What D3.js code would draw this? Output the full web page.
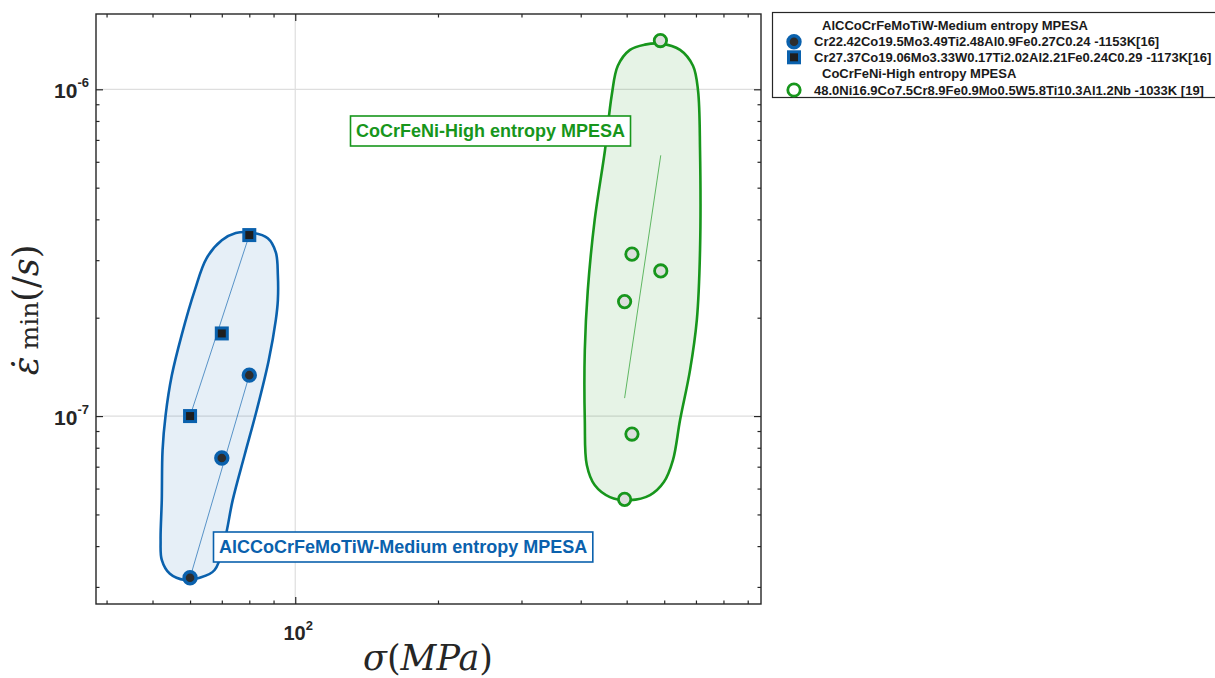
<!DOCTYPE html>
<html><head><meta charset="utf-8">
<script src="https://cdn.jsdelivr.net/npm/d3@7"></script>
<style>body{margin:0;background:#fff}svg{display:block}</style>
</head><body><svg id="chart" width="1215" height="678"></svg>
<script>
// ---------- data ----------
const groupNames = ["AlCCoCrFeMoTiW-Medium entropy MPESA", "CoCrFeNi-High entropy MPESA"];
const seriesNames = [
  "Cr22.42Co19.5Mo3.49Ti2.48Al0.9Fe0.27C0.24 -1153K[16]",
  "Cr27.37Co19.06Mo3.33W0.17Ti2.02Al2.21Fe0.24C0.29 -1173K[16]",
  "48.0Ni16.9Co7.5Cr8.9Fe0.9Mo0.5W5.8Ti10.3Al1.2Nb -1033K [19]"
];
// series 1: circles (medium entropy)
const circleStress = [60, 70, 80];
const circleRate   = [3.2e-8, 7.44e-8, 1.334e-7];
// series 2: squares (medium entropy)
const squareStress = [60, 70, 80];
const squareRate   = [1.0e-7, 1.79e-7, 3.58e-7];
// series 3: open circles (high entropy)
const highStress = [589, 513, 590, 495, 513, 495];
const highRate   = [1.41e-6, 3.13e-7, 2.78e-7, 2.24e-7, 8.81e-8, 5.56e-8];
// fit lines
const circleFitStress = [60, 80];
const circleFitRate   = [3.2e-8, 1.334e-7];
const squareFitStress = [60, 80];
const squareFitRate   = [1.0e-7, 3.58e-7];
const highFitStress   = [495, 590];
const highFitRate     = [1.135e-7, 6.28e-7];
// region outlines (data units)
const mediumHullStress = [80.2, 87.5, 91.0, 91.9, 91.9, 91.0, 87.9, 82.9, 78.2, 73.8, 71.0, 67.6, 62.9, 58.5, 54.4, 52.3, 52.0, 52.3, 52.5, 53.3, 54.9, 57.6, 61.4, 65.0, 70.0, 74.9];
const mediumHullRate   = [3.65e-7, 3.50e-7, 3.17e-7, 2.70e-7, 2.26e-7, 1.97e-7, 1.48e-7, 1.04e-7, 7.60e-8, 5.53e-8, 4.18e-8, 3.38e-8, 3.20e-8, 3.15e-8, 3.29e-8, 3.63e-8, 4.18e-8, 5.53e-8, 7.87e-8, 1.01e-7, 1.33e-7, 1.77e-7, 2.43e-7, 3.04e-7, 3.45e-7, 3.63e-7];
const highHullStress = [590, 648, 690, 707, 714, 714, 703, 680, 648, 626, 599, 560, 508, 461, 428, 412, 408, 408, 414, 428, 450, 465, 479, 508, 546];
const highHullRate   = [1.38e-6, 1.32e-6, 1.18e-6, 9.93e-7, 6.51e-7, 3.22e-7, 1.97e-7, 1.38e-7, 9.72e-8, 7.33e-8, 6.28e-8, 5.73e-8, 5.53e-8, 5.65e-8, 6.15e-8, 7.08e-8, 9.72e-8, 1.59e-7, 2.43e-7, 3.98e-7, 6.51e-7, 9.59e-7, 1.18e-6, 1.32e-6, 1.37e-6];
// axes
const xDomain = [38, 960];
const yDomain = [2.66e-8, 1.70e-6];
const xMajor = [100];
const xMinor = [40, 50, 60, 70, 80, 90, 200, 300, 400, 500, 600, 700, 800, 900];
const yMajor = [1e-7, 1e-6];
const yMinor = [3e-8, 4e-8, 5e-8, 6e-8, 7e-8, 8e-8, 9e-8, 2e-7, 3e-7, 4e-7, 5e-7, 6e-7, 7e-7, 8e-7, 9e-7];
const xTickLabels = [["10", "2"]];
const yTickLabels = [["10", "-7"], ["10", "-6"]];

// ---------- styles ----------
const BLUE = "#0a61ad", GREEN = "#17961c", AX = "#262626";
const svg = d3.select("#chart");
svg.append("rect").attr("width", 1215).attr("height", 678).attr("fill", "#fff");
const plot = {left: 96, right: 761, top: 14, bottom: 604};
const x = d3.scaleLog().domain(xDomain).range([plot.left, plot.right]);
const y = d3.scaleLog().domain(yDomain).range([plot.bottom, plot.top]);

// grid
const grid = svg.append("g").attr("stroke", "#dedede").attr("stroke-width", 1.2);
xMajor.forEach(v => grid.append("line").attr("x1", x(v)).attr("x2", x(v)).attr("y1", plot.top).attr("y2", plot.bottom));
yMajor.forEach(v => grid.append("line").attr("y1", y(v)).attr("y2", y(v)).attr("x1", plot.left).attr("x2", plot.right));

// hulls
const hull = d3.line().x(d => x(d[0])).y(d => y(d[1])).curve(d3.curveCatmullRomClosed.alpha(0.5));
const medHull = d3.zip(mediumHullStress, mediumHullRate);
const hiHull = d3.zip(highHullStress, highHullRate);
svg.append("path").attr("d", hull(medHull)).attr("fill", BLUE).attr("fill-opacity", 0.1)
  .attr("stroke", BLUE).attr("stroke-width", 2.6);
svg.append("path").attr("d", hull(hiHull)).attr("fill", GREEN).attr("fill-opacity", 0.11)
  .attr("stroke", GREEN).attr("stroke-width", 2.6);

// fit lines
const fl = d3.line().x(d => x(d[0])).y(d => y(d[1]));
svg.append("path").attr("d", fl(d3.zip(circleFitStress, circleFitRate))).attr("stroke", BLUE).attr("stroke-opacity", 0.65).attr("stroke-width", 1).attr("fill", "none");
svg.append("path").attr("d", fl(d3.zip(squareFitStress, squareFitRate))).attr("stroke", BLUE).attr("stroke-opacity", 0.65).attr("stroke-width", 1).attr("fill", "none");
svg.append("path").attr("d", fl(d3.zip(highFitStress, highFitRate))).attr("stroke", GREEN).attr("stroke-opacity", 0.65).attr("stroke-width", 1).attr("fill", "none");

// markers
svg.append("g").selectAll("circle").data(d3.zip(circleStress, circleRate)).join("circle")
  .attr("cx", d => x(d[0])).attr("cy", d => y(d[1])).attr("r", 6)
  .attr("fill", "#2d2d2d").attr("stroke", BLUE).attr("stroke-width", 3.4);
svg.append("g").selectAll("rect").data(d3.zip(squareStress, squareRate)).join("rect")
  .attr("x", d => x(d[0]) - 5.5).attr("y", d => y(d[1]) - 5.5).attr("width", 11).attr("height", 11)
  .attr("fill", "#1e1e1e").attr("stroke", BLUE).attr("stroke-width", 3);
svg.append("g").selectAll("circle").data(d3.zip(highStress, highRate)).join("circle")
  .attr("cx", d => x(d[0])).attr("cy", d => y(d[1])).attr("r", 6.2)
  .attr("fill", "#dcdfdc").attr("stroke", GREEN).attr("stroke-width", 2.8);

// region labels
function boxLabel(txt, color, x0, yBase) {
  const g = svg.append("g");
  const t = g.append("text").attr("x", x0).attr("y", yBase).text(txt)
    .attr("font-family", "Liberation Sans, Arial, sans-serif").attr("font-weight", "bold")
    .attr("font-size", 18).attr("fill", color);
  const w = t.node().getComputedTextLength();
  g.insert("rect", "text").attr("x", x0 - 5.5).attr("y", yBase - 21).attr("width", w + 11).attr("height", 30)
    .attr("fill", "#fff").attr("stroke", color).attr("stroke-width", 1.6);
}
boxLabel(groupNames[1], GREEN, 356, 137);
boxLabel(groupNames[0], BLUE, 219, 553);

// axes ticks (inward, all four sides)
function ticks(gen, vals, size, tr) {
  svg.append("g").attr("transform", tr)
    .call(gen.tickValues(vals).tickSize(size).tickFormat(""))
    .call(g => g.select(".domain").remove())
    .call(g => g.selectAll("line").attr("stroke", AX).attr("stroke-width", 1.2));
}
ticks(d3.axisBottom(x), xMinor, -3.5, `translate(0,${plot.bottom})`);
ticks(d3.axisBottom(x), xMajor, -7, `translate(0,${plot.bottom})`);
ticks(d3.axisTop(x), xMinor, -3.5, `translate(0,${plot.top})`);
ticks(d3.axisTop(x), xMajor, -7, `translate(0,${plot.top})`);
ticks(d3.axisLeft(y), yMinor, -3.5, `translate(${plot.left},0)`);
ticks(d3.axisLeft(y), yMajor, -7, `translate(${plot.left},0)`);
ticks(d3.axisRight(y), yMinor, -3.5, `translate(${plot.right},0)`);
ticks(d3.axisRight(y), yMajor, -7, `translate(${plot.right},0)`);
svg.append("rect").attr("x", plot.left).attr("y", plot.top).attr("width", plot.right - plot.left)
  .attr("height", plot.bottom - plot.top).attr("fill", "none").attr("stroke", AX).attr("stroke-width", 1.4);

// tick labels
const tf = "Liberation Sans, Arial, sans-serif";
xMajor.forEach((v, i) => {
  const t = svg.append("text").attr("x", x(v) + 3).attr("y", 640).attr("text-anchor", "middle")
    .attr("font-family", tf).attr("font-weight", "bold").attr("font-size", 20).attr("fill", AX);
  t.append("tspan").text(xTickLabels[i][0]);
  t.append("tspan").attr("font-size", 13).attr("dy", -10).text(xTickLabels[i][1]);
});
yMajor.forEach((v, i) => {
  const t = svg.append("text").attr("x", 89).attr("y", y(v) + 9).attr("text-anchor", "end")
    .attr("font-family", tf).attr("font-weight", "bold").attr("font-size", 21).attr("fill", AX);
  t.append("tspan").text(yTickLabels[i][0]);
  t.append("tspan").attr("font-size", 13).attr("dy", -11).text(yTickLabels[i][1]);
});

// axis titles
const sf = "DejaVu Serif, Liberation Serif, serif";
const xt = svg.append("text").attr("x", 428).attr("y", 670).attr("text-anchor", "middle")
  .attr("font-family", sf).attr("font-size", 35).attr("fill", AX);
xt.append("tspan").attr("font-style", "italic").text("σ");
xt.append("tspan").text("(");
xt.append("tspan").attr("font-style", "italic").text("MPa");
xt.append("tspan").text(")");

const yt = svg.append("text").attr("transform", "translate(38,310) rotate(-90)").attr("text-anchor", "middle")
  .attr("font-family", sf).attr("font-size", 35).attr("fill", AX);
yt.append("tspan").attr("font-style", "italic").text("ε̇");
yt.append("tspan").attr("font-size", 25).attr("dx", 7).text("min");
yt.append("tspan").text("(/");
yt.append("tspan").attr("font-style", "italic").text("s");
yt.append("tspan").text(")");

// legend
const lg = svg.append("g");
lg.append("rect").attr("x", 772.5).attr("y", 12.5).attr("width", 480).attr("height", 85)
  .attr("fill", "#fff").attr("stroke", AX).attr("stroke-width", 1.2);
const lf = "Liberation Sans, Arial, sans-serif";
function ltext(txt, xx, yy, size) {
  lg.append("text").attr("x", xx).attr("y", yy).attr("dominant-baseline", "central").text(txt)
    .attr("font-family", lf).attr("font-weight", "bold").attr("font-size", size).attr("fill", "#1a1a1a");
}
ltext(groupNames[0], 822, 25, 13);
lg.append("circle").attr("cx", 794).attr("cy", 41.7).attr("r", 6).attr("fill", "#2d2d2d").attr("stroke", BLUE).attr("stroke-width", 3.4);
ltext(seriesNames[0], 814, 41.7, 13);
lg.append("rect").attr("x", 794 - 5.5).attr("y", 57.3 - 5.5).attr("width", 11).attr("height", 11).attr("fill", "#1e1e1e").attr("stroke", BLUE).attr("stroke-width", 3);
ltext(seriesNames[1], 814, 57.3, 13);
ltext(groupNames[1], 822, 73.3, 13);
lg.append("circle").attr("cx", 794).attr("cy", 90).attr("r", 6.2).attr("fill", "#fff").attr("stroke", GREEN).attr("stroke-width", 2.8);
ltext(seriesNames[2], 814, 90, 13);
</script></body></html>
